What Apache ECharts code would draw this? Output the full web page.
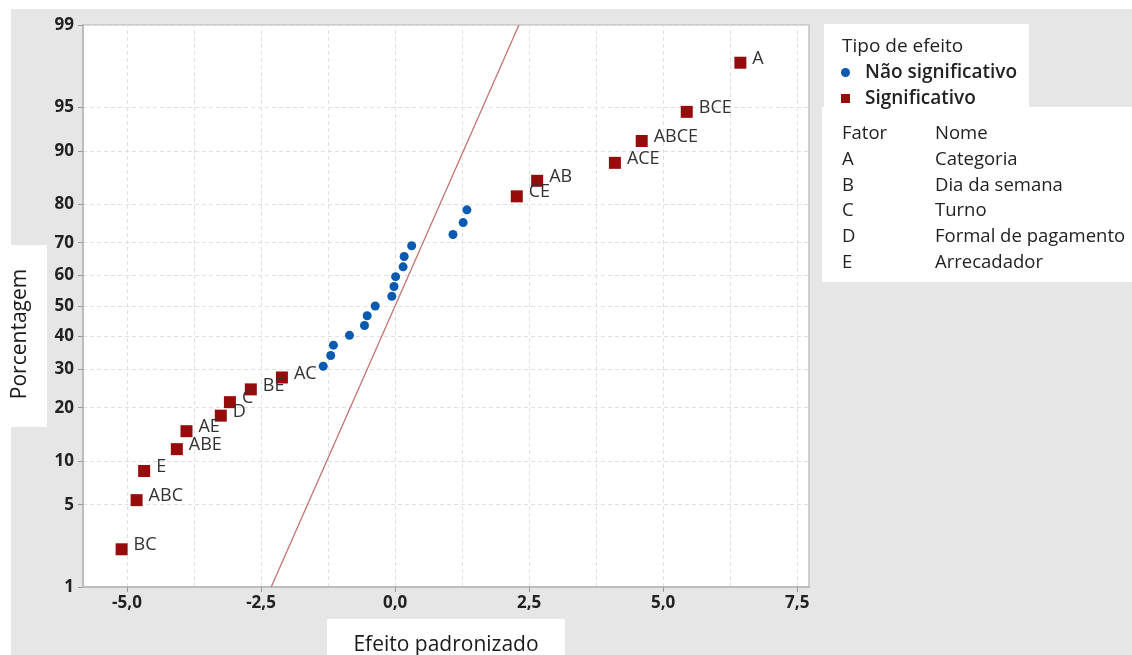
<!DOCTYPE html>
<html>
<head>
<meta charset="utf-8">
<script src="https://cdn.jsdelivr.net/npm/echarts@6/dist/echarts.min.js"></script>
<style>
  html, body { margin: 0; padding: 0; background: #fff; }
  #chart { width: 1132px; height: 655px; }
</style>
</head>
<body>
<div id="chart"></div>
<script>
// tick labels
var yTicks = [1, 5, 10, 20, 30, 40, 50, 60, 70, 80, 90, 95, 99];
var xTicks = [-5, -2.5, 0, 2.5, 5, 7.5];
var xGrid = [-5, -3.75, -2.5, -1.25, 0, 1.25, 2.5, 3.75, 5, 6.25, 7.5];

// significant effects (red squares)
var sigNames    = ['BC', 'ABC', 'E', 'ABE', 'AE', 'D', 'C', 'BE', 'AC', 'CE', 'AB', 'ACE', 'ABCE', 'BCE', 'A'];
var sigEffects  = [-5.10, -4.82, -4.68, -4.07, -3.89, -3.25, -3.08, -2.69, -2.11, 2.27, 2.65, 4.10, 4.60, 5.44, 6.44];
var sigPercents = [2.2, 5.4, 8.6, 11.8, 15.0, 18.2, 21.3, 24.5, 27.7, 81.8, 85.0, 88.2, 91.4, 94.6, 97.8];

// non significant effects (blue dots)
var nsEffects  = [-1.34, -1.20, -1.15, -0.85, -0.57, -0.52, -0.37, -0.06, -0.02, 0.01, 0.15, 0.17, 0.31, 1.08, 1.27, 1.34];
var nsPercents = [30.9, 34.1, 37.3, 40.4, 43.6, 46.8, 50.0, 53.2, 56.4, 59.6, 62.7, 65.9, 69.1, 72.3, 75.5, 78.7];

// reference line
var refEffects  = [-2.31, 2.31];
var refPercents = [1, 99];

// factor table
var factorCodes = ['A', 'B', 'C', 'D', 'E'];
var factorNames = ['Categoria', 'Dia da semana', 'Turno', 'Formal de pagamento', 'Arrecadador'];

// inverse normal cdf (Acklam)
function probit(p) {
  var a = [-3.969683028665376e+01, 2.209460984245205e+02, -2.759285104469687e+02, 1.383577518672690e+02, -3.066479806614716e+01, 2.506628277459239e+00];
  var b = [-5.447609879822406e+01, 1.615858368580409e+02, -1.556989798598866e+02, 6.680131188771972e+01, -1.328068155288572e+01];
  var c = [-7.784894002430293e-03, -3.223964580411365e-01, -2.400758277161838e+00, -2.549732539343734e+00, 4.374664141464968e+00, 2.938163982698783e+00];
  var d = [7.784695709041462e-03, 3.224671290700398e-01, 2.445134137142996e+00, 3.754408661907416e+00];
  var pl = 0.02425, q, r;
  if (p < pl) {
    q = Math.sqrt(-2 * Math.log(p));
    return (((((c[0]*q+c[1])*q+c[2])*q+c[3])*q+c[4])*q+c[5]) / ((((d[0]*q+d[1])*q+d[2])*q+d[3])*q+1);
  }
  if (p <= 1 - pl) {
    q = p - 0.5; r = q * q;
    return (((((a[0]*r+a[1])*r+a[2])*r+a[3])*r+a[4])*r+a[5])*q / (((((b[0]*r+b[1])*r+b[2])*r+b[3])*r+b[4])*r+1);
  }
  q = Math.sqrt(-2 * Math.log(1 - p));
  return -(((((c[0]*q+c[1])*q+c[2])*q+c[3])*q+c[4])*q+c[5]) / ((((d[0]*q+d[1])*q+d[2])*q+d[3])*q+1);
}
function z(pct) { return probit(pct / 100); }

var yTickZ = yTicks.map(z);
var FONT = '"Open Sans", "Noto Sans", sans-serif';

var sigData = sigNames.map(function(n, i) { return { name: n, value: [sigEffects[i], z(sigPercents[i])] }; });
var nsData = nsEffects.map(function(x, i) { return [x, z(nsPercents[i])]; });
var refData = refEffects.map(function(x, i) { return [x, z(refPercents[i])]; });

var graphics = [
  { type: 'rect', z: -10, shape: { x: 11, y: 9, width: 1121, height: 646 }, style: { fill: '#e6e6e6' } },
  { type: 'rect', z: -9, shape: { x: 0, y: 245, width: 47, height: 182 }, style: { fill: '#fff' } },
  { type: 'rect', z: -9, shape: { x: 327, y: 619, width: 238, height: 36 }, style: { fill: '#fff' } },
  { type: 'rect', z: -9, shape: { x: 824, y: 24, width: 205, height: 84 }, style: { fill: '#fff' } },
  { type: 'rect', z: -9, shape: { x: 822, y: 107, width: 310, height: 175 }, style: { fill: '#fff' } },
  { type: 'text', left: 842, top: 37, style: { text: 'Tipo de efeito', font: '19px ' + FONT, fill: '#222' } },
  { type: 'text', left: 842, top: 124, style: { text: 'Fator', font: '18.5px ' + FONT, fill: '#222' } },
  { type: 'text', left: 935, top: 124, style: { text: 'Nome', font: '18.5px ' + FONT, fill: '#222' } }
];
factorCodes.forEach(function(code, i) {
  graphics.push({ type: 'text', left: 842, top: 150 + i * 25.8, style: { text: code, font: '18.5px ' + FONT, fill: '#222' } });
  graphics.push({ type: 'text', left: 935, top: 150 + i * 25.8, style: { text: factorNames[i], font: '18.5px ' + FONT, fill: '#222' } });
});

var chart = echarts.init(document.getElementById('chart'));
chart.setOption({
  backgroundColor: '#fff',
  animation: false,
  textStyle: { fontFamily: FONT },
  grid: {
    left: 83, top: 25, right: 323, bottom: 68,
    show: true, backgroundColor: '#fff', borderColor: '#c4c4c4', borderWidth: 1.5,
    outerBoundsMode: 'none'
  },
  legend: {
    orient: 'vertical', left: 836, top: 58, itemGap: 7,
    itemWidth: 9, itemHeight: 9,
    textStyle: { fontSize: 19, fontWeight: 600, color: '#222', fontFamily: FONT, padding: [0, 0, 0, 10] },
    data: [{ name: 'Não significativo', icon: 'circle' }, { name: 'Significativo', icon: 'rect' }]
  },
  xAxis: {
    type: 'value', min: -5.82, max: 7.72,
    name: 'Efeito padronizado', nameLocation: 'middle', nameGap: 48,
    nameTextStyle: { fontSize: 21, color: '#1a1a1a', fontFamily: FONT },
    axisLine: { onZero: false, lineStyle: { color: '#bdbdbd', width: 2 } },
    axisTick: { show: true, length: 5, lineStyle: { color: '#999' }, customValues: xTicks },
    axisLabel: {
      customValues: xTicks, margin: 8, fontSize: 17, fontWeight: 'bold', color: '#222',
      formatter: function(v) { return v.toFixed(1).replace('.', ','); }
    },
    splitLine: { show: false }
  },
  yAxis: {
    type: 'value', min: z(1), max: z(99),
    name: 'Porcentagem', nameLocation: 'middle', nameGap: 52,
    nameTextStyle: { fontSize: 21, color: '#1a1a1a', fontFamily: FONT, padding: [0, 56, 0, 0] },
    axisLine: { show: true, onZero: false, lineStyle: { color: '#bdbdbd', width: 2 } },
    axisTick: { show: true, length: 5, lineStyle: { color: '#999' }, customValues: yTickZ },
    axisLabel: {
      customValues: yTickZ, margin: 9, fontSize: 17, fontWeight: 'bold', color: '#222',
      formatter: function(v) {
        var best = 0;
        for (var i = 1; i < yTickZ.length; i++) if (Math.abs(yTickZ[i] - v) < Math.abs(yTickZ[best] - v)) best = i;
        return String(yTicks[best]);
      }
    },
    splitLine: { show: true, lineStyle: { color: '#e0e0e0', type: [4, 3] } }
  },
  graphic: graphics,
  series: [
    {
      name: 'ref', type: 'line', z: 1, data: refData, symbol: 'none', silent: true,
      lineStyle: { color: '#c47272', width: 1.3 },
      markLine: {
        z: 0, silent: true, symbol: 'none', label: { show: false },
        lineStyle: { color: '#e0e0e0', type: [4, 3], width: 1 },
        data: xGrid.map(function(x) { return { xAxis: x }; })
      }
    },
    {
      name: 'Não significativo', type: 'scatter', data: nsData,
      symbol: 'circle', symbolSize: 9,
      itemStyle: { color: '#0a5ab2', opacity: 1, borderWidth: 0 }
    },
    {
      name: 'Significativo', type: 'scatter', data: sigData,
      symbol: 'rect', symbolSize: 12,
      itemStyle: { color: '#960c0c', opacity: 1, borderWidth: 0 },
      label: {
        show: true, position: 'right', distance: 6, offset: [0, -4],
        formatter: '{b}', fontSize: 18, color: '#333', fontFamily: FONT
      }
    }
  ]
});
</script>
</body>
</html>
